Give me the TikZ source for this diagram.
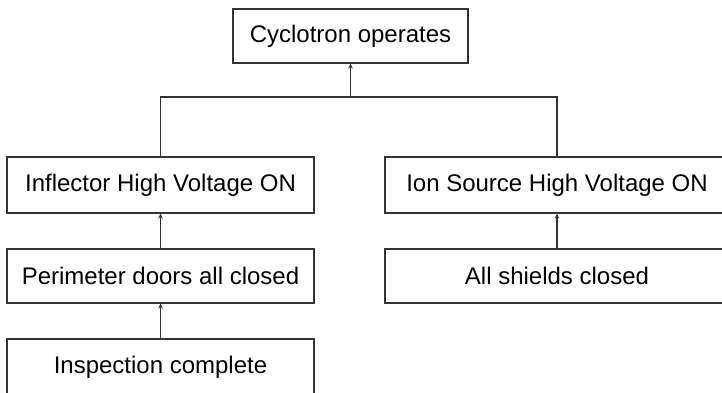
\documentclass[tikz,border=0pt]{standalone}
\usepackage{fontspec}
\setmainfont{Liberation Sans}
\usetikzlibrary{arrows.meta}
\begin{document}
\begin{tikzpicture}[x=1pt,y=1pt,
  box/.style={draw=black!80, line width=1.1pt, rectangle, inner sep=0pt,
    font=\fontsize{24}{28}\selectfont, text=black},
  conn/.style={draw=black!80, line width=1.1pt},
  arr/.style={conn, -{Stealth[length=5pt,width=4.5pt]}}]
\useasboundingbox (0,0) rectangle (722,393);
\node[box, minimum width=235pt, minimum height=54pt] (top) at (350.5,357) {Cyclotron operates};
\node[box, minimum width=307pt, minimum height=56pt] (infl) at (160.5,208) {Inflector High Voltage ON};
\node[box, minimum width=344pt, minimum height=56pt] (ion) at (557,208) {Ion Source High Voltage ON};
\node[box, minimum width=307pt, minimum height=54pt] (peri) at (160.5,117) {Perimeter doors all closed};
\node[box, minimum width=344pt, minimum height=54pt] (shield) at (557,117) {All shields closed};
\node[box, minimum width=307pt, minimum height=56pt] (insp) at (160.5,26) {Inspection complete};
\coordinate (j) at (350.5,296);
\draw[conn] (infl.north) |- (j) -| (ion.north);
\draw[arr] (j) -- (top.south);
\draw[arr] (peri.north) -- (infl.south);
\draw[arr] (insp.north) -- (peri.south);
\draw[arr] (shield.north) -- (ion.south);
\end{tikzpicture}
\end{document}
